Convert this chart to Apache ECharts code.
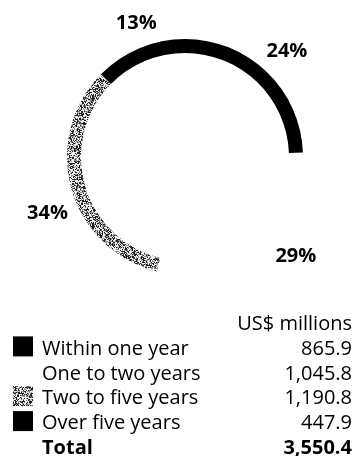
<!DOCTYPE html>
<html>
<head>
<meta charset="utf-8">
<script src="https://cdn.jsdelivr.net/npm/echarts@6/dist/echarts.min.js"></script>
<style>
  html, body { margin: 0; padding: 0; background: #fff; }
  #chart { width: 356px; height: 456px; }
</style>
</head>
<body>
<div id="chart"></div>
<script>
// Maturity profile, US$ millions
const categories = ['Within one year', 'One to two years', 'Two to five years', 'Over five years'];
const amounts = [865.9, 1045.8, 1190.8, 447.9];
const amountLabels = ['865.9', '1,045.8', '1,190.8', '447.9'];
const totalLabel = '3,550.4';
const unitLabel = 'US$ millions';
const totalName = 'Total';

const FONT = '"Open Sans", "Noto Sans", sans-serif';

// Deterministic stipple texture for the grey band
function stipple() {
  const c = document.createElement('canvas');
  c.width = 64; c.height = 64;
  const g = c.getContext('2d');
  const img = g.createImageData(64, 64);
  for (let y = 0; y < 64; y++) {
    for (let x = 0; x < 64; x++) {
      let n = Math.imul(x, 374761393) + Math.imul(y, 668265263);
      n = Math.imul(n ^ (n >>> 13), 1274126177);
      n = (n ^ (n >>> 16)) >>> 0;
      const v = (n % 1000) / 1000;
      const shade = v < 0.35 ? 35 : (v < 0.6 ? 140 : 235);
      const i = (y * 64 + x) * 4;
      img.data[i] = img.data[i + 1] = img.data[i + 2] = shade;
      img.data[i + 3] = 255;
    }
  }
  g.putImageData(img, 0, 0);
  return c;
}
const dots = { image: stipple(), repeat: 'repeat' };

// Fill per category: solid, blank, stipple, solid
const fills = ['#000', 'rgba(0,0,0,0)', dots, '#000'];
const swatches = ['#000', null, dots, '#000'];
// small nudges for the percentage labels
const labelNudge = [[0, 0], [18, -15], [4, 16], [8, 2]];

const chart = echarts.init(document.getElementById('chart'), null, { renderer: 'canvas' });

const ringData = categories.map((name, i) => ({
  name, value: amounts[i], itemStyle: { color: fills[i] }
}));
const labelData = categories.map((name, i) => ({
  name, value: amounts[i],
  label: { offset: labelNudge[i] }
}));

const center = [185, 157];
const rowY0 = 324, rowStep = 24.9;
const textFont = '20px ' + FONT;
const boldFont = 'bold 20px ' + FONT;
const graphics = [];
graphics.push({
  type: 'text', x: 352, y: rowY0,
  style: { text: unitLabel, font: textFont, fill: '#000', align: 'right', verticalAlign: 'middle' }
});
categories.forEach((name, i) => {
  const y = rowY0 + rowStep * (i + 1);
  if (swatches[i]) {
    graphics.push({ type: 'rect', shape: { x: 13, y: y - 12.5, width: 20, height: 20 }, style: { fill: swatches[i] } });
  }
  graphics.push({
    type: 'text', x: 42, y,
    style: { text: name, font: textFont, fill: '#000', align: 'left', verticalAlign: 'middle' }
  });
  graphics.push({
    type: 'text', x: 352, y,
    style: { text: amountLabels[i], font: textFont, fill: '#000', align: 'right', verticalAlign: 'middle' }
  });
});
const totalY = rowY0 + rowStep * (categories.length + 1);
graphics.push({
  type: 'text', x: 42, y: totalY,
  style: { text: totalName, font: boldFont, fill: '#000', align: 'left', verticalAlign: 'middle' }
});
graphics.push({
  type: 'text', x: 352, y: totalY,
  style: { text: totalLabel, font: boldFont, fill: '#000', align: 'right', verticalAlign: 'middle' }
});

chart.setOption({
  backgroundColor: '#fff',
  animation: false,
  series: [
    {
      type: 'pie',
      center, radius: [104, 118],
      startAngle: 90, clockwise: true,
      silent: true,
      label: { show: false }, labelLine: { show: false },
      itemStyle: { borderWidth: 0 },
      data: ringData
    },
    {
      type: 'pie',
      center, radius: [130, 158],
      startAngle: 90, clockwise: true,
      silent: true,
      itemStyle: { color: 'rgba(0,0,0,0)', borderWidth: 0 },
      label: {
        show: true, position: 'inside',
        fontFamily: FONT, fontWeight: 'bold', fontSize: 20, color: '#000',
        formatter: p => Math.round(p.percent) + '%'
      },
      labelLine: { show: false },
      data: labelData
    }
  ],
  graphic: graphics
});
</script>
</body>
</html>
